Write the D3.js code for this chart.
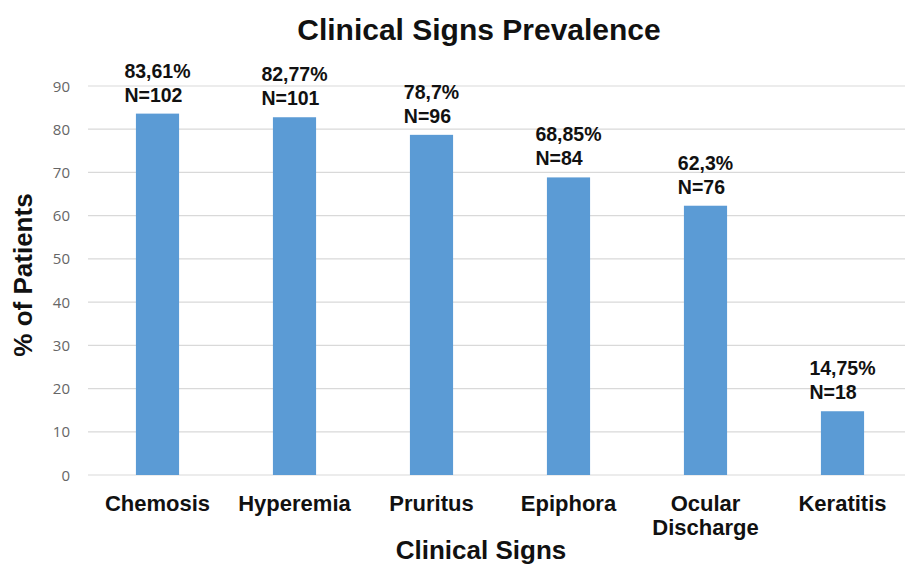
<!DOCTYPE html>
<html><head><meta charset="utf-8">
<script src="https://cdn.jsdelivr.net/npm/d3@7"></script>
<style>body{margin:0;background:#fff}svg{display:block}</style>
</head><body>
<svg id="c" width="905" height="566"></svg>
<script>
const categories = ["Chemosis","Hyperemia","Pruritus","Epiphora","Ocular\nDischarge","Keratitis"];
const percentValues = [83.61, 82.77, 78.7, 68.85, 62.3, 14.75];
const percentLabels = ["83,61%","82,77%","78,7%","68,85%","62,3%","14,75%"];
const countValues = [102, 101, 96, 84, 76, 18];
const yTicks = [0,10,20,30,40,50,60,70,80,90];

const svg = d3.select("#c");
const x = d3.scaleBand().domain(categories).range([89, 911]).paddingInner(0.685).paddingOuter(0.3425);
const y = d3.scaleLinear().domain([0, 90]).range([475, 86]);

const font = "'Liberation Sans', Arial, sans-serif";

// gridlines
svg.append("g").selectAll("line").data(yTicks).join("line")
  .attr("x1", 88).attr("x2", 905)
  .attr("y1", d => y(d)).attr("y2", d => y(d))
  .attr("stroke", "#d9d9d9").attr("stroke-width", 1.2);

// y tick labels
svg.append("g").selectAll("text").data(yTicks).join("text")
  .attr("x", 70).attr("y", d => y(d) + 5.5)
  .attr("text-anchor", "end")
  .attr("font-family", "'Open Sans', 'DejaVu Sans', sans-serif")
  .attr("font-size", 15).attr("fill", "#666")
  .text(d => d);

// bars
svg.append("g").selectAll("rect").data(percentValues).join("rect")
  .attr("x", (d,i) => x(categories[i]))
  .attr("width", x.bandwidth())
  .attr("y", d => y(d))
  .attr("height", d => y(0) - y(d))
  .attr("fill", "#5b9bd5");

// data labels
const lg = svg.append("g").attr("font-family", font).attr("font-weight", "bold").attr("font-size", 19.5).attr("fill", "#111");
percentValues.forEach((v, i) => {
  const cx = x(categories[i]) + x.bandwidth()/2;
  const t = lg.append("text").attr("y", y(v) - 36).text(percentLabels[i]);
  const t2 = lg.append("text").attr("y", y(v) - 12).text("N=" + countValues[i]);
  const w = Math.max(t.node().getComputedTextLength(), t2.node().getComputedTextLength());
  t.attr("x", cx - w/2); t2.attr("x", cx - w/2);
});

// x labels
const xg = svg.append("g").attr("font-family", font).attr("font-weight", "bold").attr("font-size", 22).attr("fill", "#111").attr("text-anchor", "middle");
categories.forEach(c => {
  const cx = x(c) + x.bandwidth()/2;
  c.split("\n").forEach((line, j) => {
    xg.append("text").attr("x", cx).attr("y", 511 + j*24).text(line);
  });
});

// title
svg.append("text").attr("x", 479).attr("y", 40).attr("text-anchor", "middle")
  .attr("font-family", font).attr("font-weight", "bold").attr("font-size", 30).attr("fill", "#111")
  .text("Clinical Signs Prevalence");

// axis titles
svg.append("text").attr("x", 481).attr("y", 559).attr("text-anchor", "middle")
  .attr("font-family", font).attr("font-weight", "bold").attr("font-size", 26).attr("fill", "#111")
  .text("Clinical Signs");
svg.append("text").attr("transform", "translate(32,275) rotate(-90)").attr("text-anchor", "middle")
  .attr("font-family", font).attr("font-weight", "bold").attr("font-size", 26).attr("fill", "#111")
  .text("% of Patients");
</script>
</body></html>
